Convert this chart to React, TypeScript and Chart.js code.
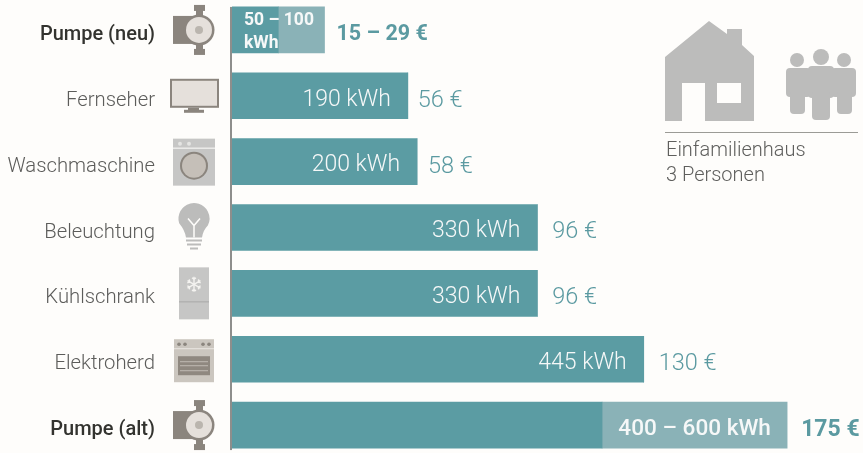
import React, { useEffect, useRef } from "react";
import { Chart, registerables } from "chart.js";

Chart.register(...registerables);

const categories = ["Pumpe (neu)", "Fernseher", "Waschmaschine", "Beleuchtung", "Kühlschrank", "Elektroherd", "Pumpe (alt)"];
const baseKwh = [50, 190, 200, 330, 330, 445, 400];
const rangeKwh = [50, 0, 0, 0, 0, 0, 200];
const kwhLabels = ["50 – 100\nkWh", "190 kWh", "200 kWh", "330 kWh", "330 kWh", "445 kWh", "400 – 600 kWh"];
const euroLabels = ["15 – 29 €", "56 €", "58 €", "96 €", "96 €", "130 €", "175 €"];
const boldRows = [true, false, false, false, false, false, true];
const iconKinds = ["pump", "tv", "washer", "bulb", "fridge", "stove", "pump"];
const houseLines = ["Einfamilienhaus", "3 Personen"];
const euroGaps = [12, 10, 11, 15, 15, 15, 14];

const DARK = "#5b9ca3";
const LIGHT = "#8ab2b7";
const BG = "#fefdfb";
const GREY = "#bcbcbb";
const BROWN = "#8b857e";
const PALE = "#e5e0db";
const FONT = "Roboto, sans-serif";
const CANVAS_TOP = -23;

type C = CanvasRenderingContext2D;

function rect(c: C, color: string, x: number, y: number, w: number, h: number) {
  c.fillStyle = color;
  c.fillRect(x, y, w, h);
}
function disc(c: C, color: string, x: number, y: number, r: number) {
  c.fillStyle = color;
  c.beginPath();
  c.arc(x, y, r, 0, Math.PI * 2);
  c.fill();
}
function rounded(c: C, color: string, x: number, y: number, w: number, h: number, r: number) {
  c.fillStyle = color;
  c.beginPath();
  c.roundRect(x, y, w, h, r);
  c.fill();
}

function drawIcon(c: C, kind: string, cy: number) {
  if (kind === "pump") {
    rect(c, BROWN, 173, cy - 14, 22, 28);
    rect(c, BROWN, 194, cy - 25, 11, 6);
    rect(c, BROWN, 196, cy - 20, 7, 6);
    rect(c, BROWN, 196, cy + 14, 7, 6);
    rect(c, BROWN, 194, cy + 19, 11, 6);
    disc(c, BROWN, 199, cy, 15.5);
    disc(c, PALE, 199, cy, 13);
    disc(c, "#bab5ae", 199, cy, 4);
  } else if (kind === "tv") {
    rect(c, BROWN, 170, cy - 17, 49, 29);
    rect(c, PALE, 172, cy - 15, 45, 25);
    rect(c, BROWN, 188, cy + 12, 11, 3);
    rect(c, BROWN, 184, cy + 14, 20, 3);
  } else if (kind === "washer") {
    rect(c, "#c6c6c5", 173, cy - 23, 42, 47);
    rect(c, "#fefdfb", 173, cy - 14, 42, 1);
    disc(c, "#e4e4e2", 180, cy - 18, 2);
    disc(c, "#e4e4e2", 189, cy - 18, 2);
    disc(c, BROWN, 194, cy + 4, 14);
    disc(c, "#c5bfb8", 194, cy + 4, 12);
  } else if (kind === "bulb") {
    c.fillStyle = GREY;
    c.beginPath();
    c.arc(194, cy - 9, 15.5, Math.PI * 0.85, Math.PI * 0.15);
    c.quadraticCurveTo(203, cy + 3, 202, cy + 10);
    c.lineTo(186, cy + 10);
    c.quadraticCurveTo(185, cy + 3, 179.2, cy - 4.2);
    c.closePath();
    c.fill();
    c.strokeStyle = BG;
    c.lineWidth = 1.5;
    c.beginPath();
    c.moveTo(188, cy - 9);
    c.lineTo(194, cy - 2);
    c.lineTo(200, cy - 9);
    c.moveTo(194, cy - 2);
    c.lineTo(194, cy + 10);
    c.stroke();
    rect(c, GREY, 186, cy + 12, 16, 2);
    rect(c, GREY, 187, cy + 16, 14, 2);
    rect(c, GREY, 190, cy + 20, 8, 2);
  } else if (kind === "fridge") {
    rect(c, "#c6c6c5", 179, cy - 26, 30, 52);
    rect(c, "#a9a9a7", 179, cy + 8, 30, 1);
    c.strokeStyle = "#f4f3f0";
    c.lineWidth = 1.4;
    const sx = 194;
    const sy = cy - 9;
    for (let i = 0; i < 6; i++) {
      const a = (i * Math.PI) / 3 + Math.PI / 2;
      const ex = sx + 7.5 * Math.cos(a);
      const ey = sy + 7.5 * Math.sin(a);
      const mx = sx + 5 * Math.cos(a);
      const my = sy + 5 * Math.sin(a);
      c.beginPath();
      c.moveTo(sx, sy);
      c.lineTo(ex, ey);
      c.moveTo(mx + 2.5 * Math.cos(a + 0.9), my + 2.5 * Math.sin(a + 0.9));
      c.lineTo(mx, my);
      c.lineTo(mx + 2.5 * Math.cos(a - 0.9), my + 2.5 * Math.sin(a - 0.9));
      c.stroke();
    }
  } else if (kind === "stove") {
    rect(c, "#cbc6bf", 174, cy - 20, 40, 43);
    for (const x of [179, 185, 203, 209]) disc(c, BROWN, x, cy - 15, 1.8);
    rect(c, "#eae6e1", 174, cy - 11, 40, 1);
    rect(c, "#8f8880", 178, cy - 3, 32, 19);
    rect(c, "#c0bab3", 180, cy + 2, 28, 1);
    rect(c, "#c0bab3", 180, cy + 6, 28, 1);
    rect(c, "#c0bab3", 180, cy + 11, 28, 1);
  }
}

function drawHouse(c: C) {
  c.fillStyle = GREY;
  c.beginPath();
  c.moveTo(709, 21);
  c.lineTo(727, 34);
  c.lineTo(727, 29);
  c.lineTo(742, 29);
  c.lineTo(742, 45);
  c.lineTo(754, 56);
  c.lineTo(754, 121);
  c.lineTo(705, 121);
  c.lineTo(705, 83);
  c.lineTo(682, 83);
  c.lineTo(682, 121);
  c.lineTo(665, 121);
  c.lineTo(665, 57);
  c.closePath();
  c.fill();
  rect(c, BG, 717, 83, 24, 20);

  disc(c, GREY, 797, 60, 7);
  disc(c, GREY, 821, 57, 8);
  disc(c, GREY, 844, 60, 7);
  rounded(c, GREY, 786, 68, 25, 29, 4);
  rounded(c, GREY, 790, 90, 15, 24, 4);
  rounded(c, GREY, 831, 68, 25, 29, 4);
  rounded(c, GREY, 837, 90, 15, 24, 4);
  rounded(c, GREY, 808, 66, 26, 32, 4);
  rounded(c, GREY, 812, 90, 18, 30, 4);

  rect(c, "#9b9b96", 665, 132, 193, 1);
  c.fillStyle = "#5f5f5d";
  c.font = `300 20px ${FONT}`;
  c.textAlign = "left";
  c.textBaseline = "alphabetic";
  c.fillText(houseLines[0], 666, 156);
  c.fillText(houseLines[1], 666, 181);
}

const decorations = {
  id: "decorations",
  afterLayout(chart: any) {
    // the tick labels sit slightly below the bar centres in the reference
    const y = chart.scales.y;
    y.getLabelItems(chart.chartArea).forEach((item: any) => {
      item.options.translation = [item.options.translation[0], item.options.translation[1] + 5];
    });
  },
  afterDatasetsDraw(chart: Chart) {
    const c = chart.ctx as C;
    const x = chart.scales.x;
    const y = chart.scales.y;
    c.save();

    // axis line, spanning the first to the last bar
    const top = y.getPixelForValue(0) - 23;
    const bottom = y.getPixelForValue(categories.length - 1) + 25;
    rect(c, "#8e8e8c", chart.chartArea.left - 2, top, 2, bottom - top);

    categories.forEach((_, i) => {
      const cy = y.getPixelForValue(i);
      const total = baseKwh[i] + rangeKwh[i];
      const end = x.getPixelForValue(total);
      c.save();
      drawIcon(c, iconKinds[i], cy);
      c.restore();

      c.textBaseline = "middle";
      c.fillStyle = "#f6f8f8";
      if (i === 0) {
        const [first, second] = kwhLabels[i].split("\n");
        c.font = `700 17.5px ${FONT}`;
        c.textAlign = "left";
        c.fillText(first, x.getPixelForValue(0) + 12, cy - 9);
        c.fillText(second, x.getPixelForValue(0) + 12, cy + 14);
      } else if (rangeKwh[i] > 0) {
        c.font = `500 22.6px ${FONT}`;
        c.textAlign = "center";
        c.fillText(kwhLabels[i], (x.getPixelForValue(baseKwh[i]) + end) / 2, cy + 4);
      } else {
        c.font = `300 23px ${FONT}`;
        c.textAlign = "right";
        c.fillText(kwhLabels[i], end - 17, cy + 4);
      }

      c.fillStyle = "#5b9aa1";
      c.textAlign = "left";
      c.font = boldRows[i] ? `700 ${i === 0 ? 21.5 : 23}px ${FONT}` : `300 23.5px ${FONT}`;
      c.fillText(euroLabels[i], end + euroGaps[i], cy + 5);
    });

    c.translate(0, -CANVAS_TOP);
    drawHouse(c);
    c.restore();
  },
};

export default function App() {
  const ref = useRef<HTMLCanvasElement>(null);

  useEffect(() => {
    document.body.style.margin = "0";
    document.body.style.background = BG;
    const chart = new Chart(ref.current!, {
      type: "bar",
      data: {
        labels: categories,
        datasets: [
          { label: "kWh", data: baseKwh, backgroundColor: DARK, borderWidth: 0, barThickness: 46 },
          { label: "Spanne", data: rangeKwh, backgroundColor: LIGHT, borderWidth: 0, barThickness: 46 },
        ],
      },
      options: {
        indexAxis: "y",
        responsive: false,
        animation: false,
        events: [],
        layout: { autoPadding: false, padding: { top: 20, bottom: 20, left: 0, right: 0 } },
        plugins: { legend: { display: false }, tooltip: { enabled: false } },
        scales: {
          x: { display: false, stacked: true, min: 0, max: 682 },
          y: {
            stacked: true,
            afterFit(scale: any) {
              scale.width = 232;
              scale.paddingTop = 0;
              scale.paddingBottom = 0;
            },
            border: { display: false },
            grid: { display: false, drawTicks: true, tickLength: 77 },
            ticks: {
              padding: 0,
              autoSkip: false,
              color: (ctx: any) => (boldRows[ctx.index] ? "#33332f" : "#5c5c5a"),
              font: (ctx: any) => ({
                family: FONT,
                size: boldRows[ctx.index] ? 20 : 20.3,
                weight: boldRows[ctx.index] ? 500 : 300,
              }),
            },
          },
        },
      },
      plugins: [decorations],
    } as any);
    return () => chart.destroy();
  }, []);

  return (
    <div style={{ position: "fixed", left: 0, top: 0, width: 863, height: 453, overflow: "hidden", background: BG }}>
      <canvas ref={ref} width={863} height={501} style={{ position: "absolute", left: 0, top: CANVAS_TOP, width: 863, height: 501 }} />
    </div>
  );
}
